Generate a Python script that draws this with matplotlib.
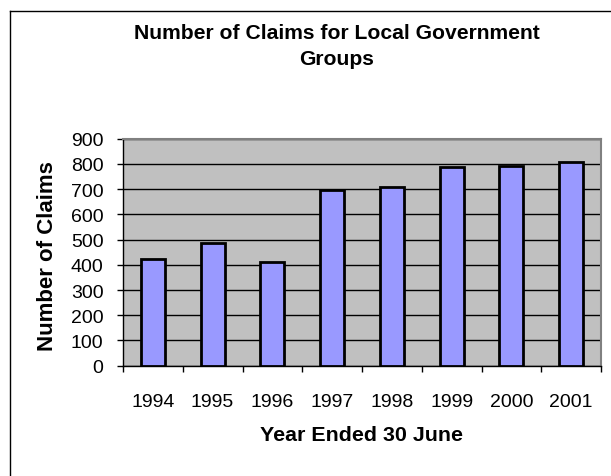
import matplotlib
matplotlib.use('Agg')

import matplotlib.pyplot as plt
from matplotlib.lines import Line2D

years = ['1994', '1995', '1996', '1997', '1998', '1999', '2000', '2001']
claims = [425, 488, 410, 698, 708, 788, 793, 807]

y_ticks = [0, 100, 200, 300, 400, 500, 600, 700, 800, 900]

W, H = 611, 477
plt.rcParams['font.family'] = ['Liberation Sans', 'DejaVu Sans']

fig = plt.figure(figsize=(W / 100, H / 100), dpi=100)
fig.patch.set_facecolor('white')

# plot area in pixel terms
left, top, right, bottom = 123, 139.7, 601, 366.7
ax = fig.add_axes([left / W, 1 - bottom / H, (right - left) / W, (bottom - top) / H])
ax.set_facecolor('#C0C0C0')

x = list(range(len(years)))
ax.bar(x, claims, width=0.4, color='#9999FF', edgecolor='black', linewidth=2, zorder=3)

ax.set_xlim(-0.5, len(years) - 0.5)
ax.set_ylim(0, 900)
ax.set_yticks(y_ticks)
ax.set_yticklabels([str(v) for v in y_ticks], fontsize=14)
ax.yaxis.grid(True, color='black', linewidth=1, zorder=1)
ax.set_axisbelow(True)

# category labels in the middle, ticks on the boundaries
ax.set_xticks(x)
ax.set_xticklabels(years, fontsize=14)
ax.tick_params(axis='x', length=0, pad=20)
ax.set_xticks([i - 0.5 for i in range(len(years) + 1)], minor=True)
ax.tick_params(axis='x', which='minor', length=4.5, width=1, color='black', direction='out')
ax.tick_params(axis='y', length=4.5, width=1, color='black', direction='out', pad=9.5)

for s in ['top', 'right']:
    ax.spines[s].set_color('#808080')
    ax.spines[s].set_linewidth(1.5)
for s in ['left', 'bottom']:
    ax.spines[s].set_color('black')
    ax.spines[s].set_linewidth(1)

# axis titles
fig.text(362 / W, 1 - 436 / H, 'Year Ended 30 June', ha='center', va='center',
         fontsize=15.4, fontweight='bold')
fig.text(48 / W, 1 - 256 / H, 'Number of Claims', ha='center', va='center',
         rotation=90, fontsize=16, fontweight='bold')

fig.text(337 / W, 1 - 46.5 / H, 'Number of Claims for Local Government\nGroups',
         ha='center', va='center', fontsize=15.2, fontweight='bold', linespacing=1.5)

# chart frame
fig.add_artist(Line2D([10 / W, 10 / W], [0, 1 - 12 / H], color='black', linewidth=1))
fig.add_artist(Line2D([10 / W, 1], [1 - 12 / H, 1 - 12 / H], color='black', linewidth=1))

fig.savefig('out.png', dpi=100)
